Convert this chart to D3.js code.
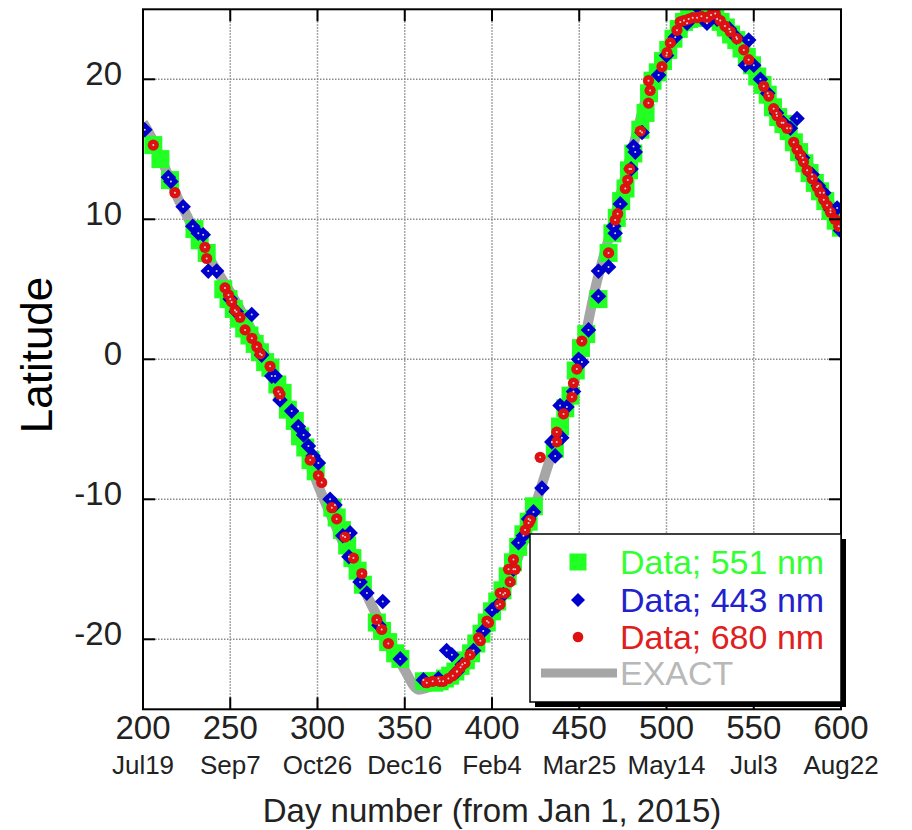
<!DOCTYPE html>
<html>
<head>
<meta charset="utf-8">
<script src="https://cdn.jsdelivr.net/npm/d3@7"></script>
<style>
  body { margin: 0; background: #fff; }
  svg text { font-family: "Liberation Sans", Arial, sans-serif; }
</style>
</head>
<body>
<div id="chart"></div>
<script>
// x ticks (day number) and the matching calendar dates
const dayTicks = [200, 250, 300, 350, 400, 450, 500, 550, 600];
const dateLabels = ["Jul19", "Sep7", "Oct26", "Dec16", "Feb4", "Mar25", "May14", "Jul3", "Aug22"];
const latTicks = [-20, -10, 0, 10, 20];

// EXACT curve [day, latitude]
const exact = [
  [200, 16.9], [205, 15.8], [210, 14.4], [215, 13.0], [220, 11.5], [225, 10.3], [230, 9.0],
  [240, 6.8], [250, 4.8], [260, 2.6], [270, 0.3], [280, -2.6], [290, -5.5], [300, -8.9],
  [310, -11.8], [320, -14.6], [330, -17.3], [340, -19.8], [350, -22.2], [358, -23.6],
  [362, -23.5], [370, -23.0], [380, -22.1], [390, -20.6], [400, -18.3], [410, -15.8],
  [420, -12.3], [430, -8.4], [440, -4.5], [450, -0.3], [460, 5.5], [470, 10.0], [480, 14.8],
  [490, 19.3], [500, 21.8], [510, 23.6], [520, 24.5], [527, 24.7], [535, 23.6], [545, 21.8],
  [555, 19.6], [565, 17.3], [575, 15.3], [585, 13.1], [595, 10.8], [600, 9.5]
];

// Data; 551 nm
const green551 = [
  [205.9, 15.3], [210, 14.3], [215.5, 12.8], [229.5, 9.3], [232.5, 8.5], [236.5, 7.6], [246, 5.0],
  [249, 4.3], [252, 3.6], [255, 2.9], [258, 2.2], [261, 1.7], [264, 1.1], [267, 0.5], [270, -0.2],
  [273, -0.6], [277, -1.8], [280, -2.4], [283, -3.6], [287, -4.4], [290, -5.5], [293, -6.3],
  [296, -7.2], [299, -8.0], [308.5, -10.6], [311, -11.3], [314, -12.2], [317, -13.3], [320, -14.2],
  [323, -15.1], [326, -16.1], [334, -18.8], [337, -19.4], [340.5, -20.2], [344.5, -21.0],
  [347.5, -21.4], [361, -23.0], [364, -23.0], [367, -23.1], [370, -23.0], [373, -22.8],
  [376, -22.6], [379, -22.3], [382, -21.9], [385, -21.5], [388, -21.0], [391, -20.3],
  [394, -19.6], [397, -18.8], [400, -18.0], [403, -17.3], [406, -16.5], [409, -15.5],
  [412, -14.5], [415, -13.4], [418, -12.5], [421, -11.6], [424, -10.5], [436, -6.4], [439, -4.8],
  [442, -3.5], [445, -2.6], [448, -0.8], [451, 0.8], [454, 1.8], [461, 4.3], [466.8, 7.6],
  [469, 9.0], [471.5, 10.1], [474, 11.3], [476.5, 12.2], [478.5, 13.5], [481, 14.7], [485, 16.4],
  [488, 17.6], [490, 19.0], [492, 19.9], [495, 20.5], [498, 21.3], [501, 22.1], [504, 22.9],
  [507, 23.6], [510, 24.1], [513, 24.3], [516, 24.4], [519, 24.5], [522, 24.4], [525, 24.5],
  [528, 24.5], [531, 24.1], [534, 23.7], [537, 23.2], [540, 22.8], [543, 22.2], [546, 21.6],
  [549, 21.0], [552, 20.2], [555, 19.6], [558, 18.9], [561, 18.0], [564, 17.3], [567, 16.8],
  [570, 16.3], [573, 15.5], [576, 14.8], [579, 14.0], [582, 13.3], [585, 12.6], [588, 12.0],
  [591, 11.3], [594, 10.6], [597, 9.9], [600, 9.4]
];

// Data; 443 nm
const blue443 = [
  [201, 16.4], [214.5, 13.0], [216, 12.7], [223, 10.9], [228.5, 9.5], [231.7, 9.0], [234.5, 8.9],
  [237.4, 6.3], [242.2, 6.3], [250, 4.3], [253.5, 3.4], [262.3, 3.2], [268, 0.3], [273.8, -1.2],
  [275.7, -1.2], [278.5, -2.9], [285.2, -3.7], [289, -4.8], [292, -5.4], [294.8, -6.2],
  [297.5, -6.9], [300.5, -7.4], [307.2, -10.0], [310, -10.4], [314.5, -12.6], [318.7, -12.4],
  [318, -14.1], [324.4, -15.9], [328.3, -16.7], [335.2, -19.0], [337.4, -17.3], [347.4, -21.4],
  [360.7, -22.9], [369.3, -22.8], [374, -20.8], [377, -21.1], [380, -22.3], [383, -21.8],
  [389.4, -20.8], [395, -19.4], [400, -17.9], [403, -17.6], [406.5, -16.8], [412.3, -15.0],
  [415.2, -13.1], [418, -12.6], [421, -11.4], [423.8, -10.9], [428.6, -9.2], [434.3, -5.9],
  [436.2, -6.9], [439, -3.3], [440, -5.6], [442.9, -3.4], [446.7, -2.3], [449.6, 0.0],
  [451.5, -0.2], [455.3, 2.1], [461, 6.3], [461, 4.5], [466.8, 6.6], [469.7, 9.5], [470.6, 9.0],
  [473.5, 11.1], [479.7, 13.6], [481.1, 15.2], [482.1, 14.8], [486, 16.2], [495.5, 20.3],
  [500, 21.7], [505, 23.0], [511.8, 24.0], [517.5, 25.2], [523.2, 24.0], [529, 24.3],
  [536, 23.6], [540, 23.0], [545.2, 21.0], [547.1, 22.8], [550, 21.0], [553.8, 20.0],
  [558, 19.0], [563, 17.6], [567, 16.9], [571, 16.5], [574.8, 17.2], [578, 14.4], [583.4, 13.2],
  [587, 12.4], [590.1, 11.9], [594, 10.7], [597.8, 10.8], [599.7, 9.2]
];

// Data; 680 nm
const red680 = [
  [205.9, 15.3], [218.3, 11.9], [235.5, 8.0], [236.5, 7.2], [247, 5.1], [249, 4.6], [250.8, 4.1],
  [252.7, 3.5], [255.6, 3.0], [258.5, 2.1], [262.4, 1.5], [265.2, 0.9], [267.1, 0.4],
  [272.8, -0.5], [277.6, -2.3], [278.5, -2.5], [295.8, -7.2], [300.5, -8.3], [302.4, -8.8],
  [308.2, -10.6], [311, -11.4], [315.8, -12.7], [320.6, -14.2], [325.4, -15.3], [334, -18.6],
  [336.8, -19.3], [340.6, -20.3], [362.6, -23.1], [366, -23.0], [370, -23.0], [372, -23.0],
  [375, -22.8], [377.5, -22.6], [379.8, -22.3], [382, -22.0], [384.5, -21.7], [387.4, -21.1],
  [392.3, -19.9], [393.3, -20.1], [397.1, -18.7], [398, -18.8], [404.6, -17.5], [404.7, -16.7],
  [407.5, -16.7], [409.5, -15.0], [410.4, -15.9], [412.3, -14.3], [413.3, -15.0], [419, -12.2],
  [421, -11.7], [421.9, -11.5], [427.6, -7.0], [437.1, -5.9], [437.1, -5.2], [441, -3.9],
  [445.8, -2.7], [446.7, -1.7], [448.6, -0.7], [451.5, 1.3], [466.8, 7.6], [470.6, 9.95],
  [472, 10.4], [476.4, 12.2], [477.8, 12.8], [478.8, 13.6], [485, 16.3], [489.7, 18.3],
  [490.6, 19.2], [489.7, 19.9], [497.4, 20.9], [500.3, 21.9], [502.2, 22.6], [506, 23.5],
  [507.9, 24.1], [510, 24.2], [512.7, 24.3], [515, 24.4], [517.5, 24.4], [520, 24.5],
  [523.2, 24.4], [525.5, 24.6], [527.9, 24.7], [530.8, 24.2], [533.5, 23.8], [536.6, 23.4],
  [540.4, 22.9], [544.3, 22.1], [547.1, 21.4], [555.7, 19.5], [558.6, 18.8], [561.4, 17.9],
  [563.3, 17.4], [566, 16.9], [569.1, 16.5], [572.9, 15.5], [574.8, 15.0], [576.7, 14.6],
  [578.5, 14.1], [580.6, 13.5], [583.5, 12.9], [586.3, 12.3], [588, 11.9], [590.1, 11.4],
  [592, 11.0], [594, 10.5], [596.5, 10.0], [598.7, 9.5]
];

const legendNames = ["Data; 551 nm", "Data; 443 nm", "Data; 680 nm", "EXACT"];

const width = 912, height = 830;
const pLeft = 143, pRight = 841, pTop = 9.3, pBottom = 709.3;

const GREEN = "#22ff22", BLUE = "#0000cc", RED = "#dd1111", GREY = "#a6a6a6";

const svg = d3.select("#chart").append("svg")
  .attr("width", width)
  .attr("height", height);

const x = d3.scaleLinear().domain([200, 600]).range([pLeft, pRight]);
const y = d3.scaleLinear().domain([-25, 25]).range([pBottom, pTop]);

svg.append("defs").append("clipPath").attr("id", "plot")
  .append("rect")
  .attr("x", pLeft).attr("y", pTop)
  .attr("width", pRight - pLeft).attr("height", pBottom - pTop);

// grid
const grid = svg.append("g")
  .attr("stroke", "#8a8a8a")
  .attr("stroke-width", 1.5)
  .attr("stroke-dasharray", "1.5,1.5");
grid.selectAll(".gx").data(dayTicks.slice(1, -1)).enter().append("line")
  .attr("x1", d => x(d)).attr("x2", d => x(d))
  .attr("y1", pTop).attr("y2", pBottom);
grid.selectAll(".gy").data(latTicks).enter().append("line")
  .attr("x1", pLeft).attr("x2", pRight)
  .attr("y1", d => y(d)).attr("y2", d => y(d));

const plot = svg.append("g").attr("clip-path", "url(#plot)");

// EXACT line
const line = d3.line()
  .x(d => x(d[0]))
  .y(d => y(d[1]))
  .curve(d3.curveMonotoneX);

plot.append("path")
  .datum(exact)
  .attr("d", line)
  .attr("fill", "none")
  .attr("stroke", GREY)
  .attr("stroke-width", 10);

// markers
const sq = 18;
plot.selectAll(".g551").data(green551).enter().append("rect")
  .attr("x", d => x(d[0]) - sq / 2)
  .attr("y", d => y(d[1]) - sq / 2)
  .attr("width", sq).attr("height", sq)
  .attr("fill", GREEN);

const diamond = (cx, cy, r) => `M${cx},${cy - r}L${cx + r},${cy}L${cx},${cy + r}L${cx - r},${cy}Z`;

plot.selectAll(".b443").data(blue443).enter().append("path")
  .attr("d", d => diamond(x(d[0]), y(d[1]), 7.8))
  .attr("fill", BLUE);

plot.selectAll(".r680").data(red680).enter().append("circle")
  .attr("cx", d => x(d[0]))
  .attr("cy", d => y(d[1]))
  .attr("r", 5.6)
  .attr("fill", RED);

// tiny pale centres
plot.selectAll(".dots").data(blue443.concat(red680)).enter().append("circle")
  .attr("cx", d => x(d[0]))
  .attr("cy", d => y(d[1]))
  .attr("r", 1)
  .attr("fill", "#d8d8d8");

// ticks (inward, all four sides)
const tl = 12;
const ticks = svg.append("g").attr("stroke", "#000").attr("stroke-width", 2);
dayTicks.slice(1, -1).forEach(d => {
  ticks.append("line").attr("x1", x(d)).attr("x2", x(d)).attr("y1", pBottom).attr("y2", pBottom - tl);
  ticks.append("line").attr("x1", x(d)).attr("x2", x(d)).attr("y1", pTop).attr("y2", pTop + tl);
});
latTicks.forEach(d => {
  ticks.append("line").attr("x1", pLeft).attr("x2", pLeft + tl).attr("y1", y(d)).attr("y2", y(d));
  ticks.append("line").attr("x1", pRight).attr("x2", pRight - tl).attr("y1", y(d)).attr("y2", y(d));
});

// frame
svg.append("rect")
  .attr("x", pLeft).attr("y", pTop)
  .attr("width", pRight - pLeft).attr("height", pBottom - pTop)
  .attr("fill", "none")
  .attr("stroke", "#000")
  .attr("stroke-width", 2);

// tick labels
svg.selectAll(".xl").data(dayTicks).enter().append("text")
  .attr("x", d => x(d))
  .attr("y", 739)
  .attr("text-anchor", "middle")
  .attr("font-size", 33)
  .attr("fill", "#222")
  .text(d => d);

svg.selectAll(".dl").data(dateLabels).enter().append("text")
  .attr("x", (d, i) => x(dayTicks[i]))
  .attr("y", 774)
  .attr("text-anchor", "middle")
  .attr("font-size", 26)
  .attr("fill", "#222")
  .text(d => d);

svg.selectAll(".yl").data(latTicks).enter().append("text")
  .attr("x", 122)
  .attr("y", d => y(d) + 6)
  .attr("text-anchor", "end")
  .attr("font-size", 33)
  .attr("fill", "#222")
  .text(d => d);

// axis titles
svg.append("text")
  .attr("x", 492)
  .attr("y", 822)
  .attr("text-anchor", "middle")
  .attr("font-size", 33)
  .attr("fill", "#222")
  .text("Day number (from Jan 1, 2015)");

svg.append("text")
  .attr("transform", "translate(52,355) rotate(-90)")
  .attr("text-anchor", "middle")
  .attr("font-size", 44)
  .attr("fill", "#000")
  .text("Latitude");

// legend
const lg = svg.append("g");
lg.append("rect")
  .attr("x", 535).attr("y", 539)
  .attr("width", 311).attr("height", 168)
  .attr("fill", "#000");
lg.append("rect")
  .attr("x", 530).attr("y", 534)
  .attr("width", 311).attr("height", 168)
  .attr("fill", "#fff")
  .attr("stroke", "#000")
  .attr("stroke-width", 1.5);

const rowY = [562, 600, 637, 673];
const textColors = ["#33ff33", "#2222cc", "#e02020", "#b8b8b8"];

lg.append("rect")
  .attr("x", 578 - 8.5).attr("y", rowY[0] - 8.5)
  .attr("width", 17).attr("height", 17)
  .attr("fill", GREEN);
lg.append("path")
  .attr("d", diamond(578, rowY[1], 7))
  .attr("fill", BLUE);
lg.append("circle")
  .attr("cx", 578).attr("cy", rowY[2]).attr("r", 5.3)
  .attr("fill", RED);
lg.append("line")
  .attr("x1", 541).attr("x2", 617)
  .attr("y1", rowY[3]).attr("y2", rowY[3])
  .attr("stroke", GREY)
  .attr("stroke-width", 9);

lg.selectAll(".lt").data(legendNames).enter().append("text")
  .attr("x", 620)
  .attr("y", (d, i) => rowY[i] + 11.5)
  .attr("font-size", 34)
  .attr("fill", (d, i) => textColors[i])
  .text(d => d);
</script>
</body>
</html>
